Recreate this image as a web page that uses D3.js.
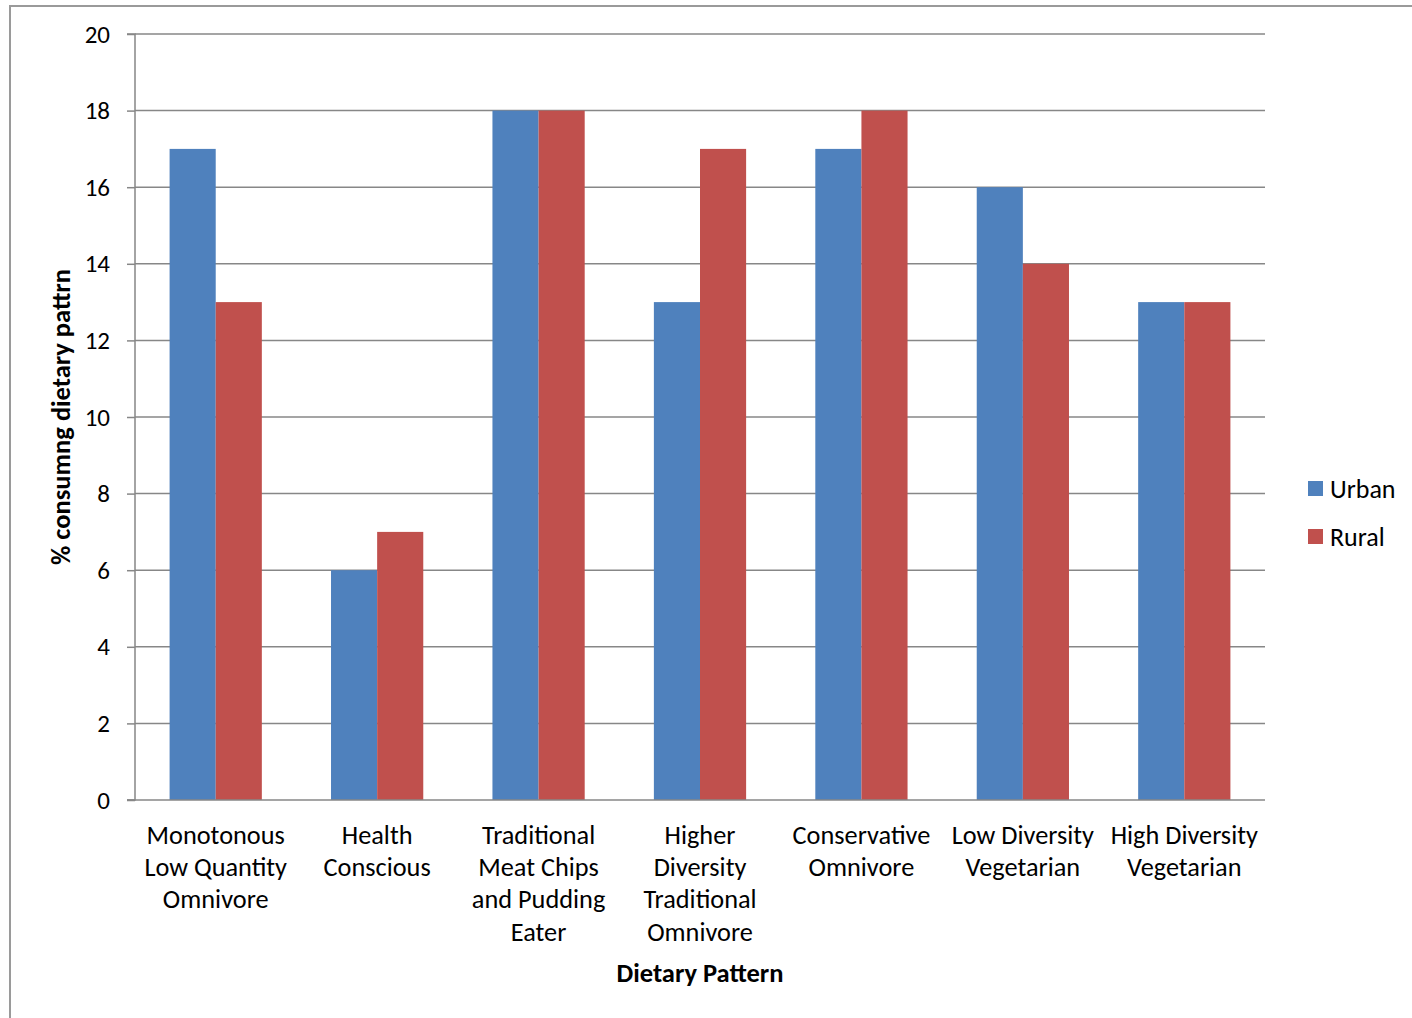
<!DOCTYPE html>
<html><head><meta charset="utf-8">
<script src="https://cdn.jsdelivr.net/npm/d3@7"></script>
<style>
html,body{margin:0;padding:0;background:#fff;}
svg{display:block;}
text{font-family:Carlito,Calibri,Lato,"Open Sans",sans-serif;fill:#000;}
</style></head>
<body>
<svg id="chart" width="1412" height="1018"></svg>
<script>
const categories = [
  ["Monotonous","Low Quantity","Omnivore"],
  ["Health","Conscious"],
  ["Traditional","Meat Chips","and Pudding","Eater"],
  ["Higher","Diversity","Traditional","Omnivore"],
  ["Conservative","Omnivore"],
  ["Low Diversity","Vegetarian"],
  ["High Diversity","Vegetarian"]
];
const seriesNames = ["Urban","Rural"];
const urban = [17, 6, 18, 13, 17, 16, 13];
const rural = [13, 7, 18, 17, 18, 14, 13];
const yTicks = [0,2,4,6,8,10,12,14,16,18,20];
const colors = ["#4F81BD","#C0504D"];

const FONT = "Carlito,Calibri,Lato,sans-serif";
const svg = d3.select("#chart");
const mL = 135, mR = 1265, mT = 34, mB = 800;

// outer frame
svg.append("path").attr("d","M10,1018 V6 H1412").attr("fill","none").attr("stroke","#9a9a9a").attr("stroke-width",2);

const idx = d3.range(categories.length);
const x = d3.scaleBand().domain(idx).range([mL,mR]).paddingInner(0).paddingOuter(0);
const x1 = d3.scaleBand().domain([0,1]).range([0,x.bandwidth()]).paddingInner(0).paddingOuter(0.75);
const y = d3.scaleLinear().domain([0,20]).range([mB,mT]);

// gridlines
svg.append("g").selectAll("line").data(yTicks.filter(d=>d>0)).join("line")
  .attr("x1",mL).attr("x2",mR).attr("y1",d=>y(d)).attr("y2",d=>y(d))
  .attr("stroke","#878787").attr("stroke-width",1.5);

// bars
const data = idx.map(i=>({i, vals:[urban[i],rural[i]]}));
const groups = svg.append("g").selectAll("g").data(data).join("g")
  .attr("transform",d=>`translate(${x(d.i)},0)`);
groups.selectAll("rect").data(d=>d.vals.map((v,j)=>({v,j}))).join("rect")
  .attr("x",d=>x1(d.j))
  .attr("width",x1.bandwidth())
  .attr("y",d=>y(d.v)).attr("height",d=>mB-y(d.v))
  .attr("fill",d=>colors[d.j]);

// y axis
const yAxis = d3.axisLeft(y).tickValues(yTicks).tickSize(8).tickPadding(17);
const yg = svg.append("g").attr("transform",`translate(${mL},0)`).call(yAxis);
yg.select(".domain").attr("stroke","#878787").attr("stroke-width",1.5).attr("d",`M-8,${mT}H0V${mB}H-8`);
yg.selectAll(".tick line").attr("stroke","#878787").attr("stroke-width",1.5);
yg.selectAll(".tick text").attr("font-size",25).attr("font-family",FONT).attr("fill","#000");

// x axis
const xAxis = d3.axisBottom(x).tickSize(0).tickFormat("");
const xg = svg.append("g").attr("transform",`translate(0,${mB})`).call(xAxis);
xg.select(".domain").attr("stroke","#878787").attr("stroke-width",1.5).attr("d",`M${mL-8},0H${mR}`);
xg.selectAll(".tick").each(function(i){
  const t = d3.select(this).append("text").attr("text-anchor","middle").attr("font-size",26.3)
    .attr("font-family",FONT).attr("fill","#000");
  categories[i].forEach((ln,k)=>t.append("tspan").attr("x",0).attr("y",43.5+k*32.4).text(ln));
});

// axis titles
svg.append("text").attr("x",700).attr("y",982).attr("text-anchor","middle")
  .attr("font-size",26.5).attr("font-weight","bold").text("Dietary Pattern");
svg.append("text").attr("transform","translate(70,417) rotate(-90)").attr("text-anchor","middle")
  .attr("font-size",26.5).attr("font-weight","bold").text("% consumng dietary pattrn");

// legend
const lg = svg.append("g").selectAll("g").data(seriesNames).join("g")
  .attr("transform",(d,i)=>`translate(1308,${481+i*48})`);
lg.append("rect").attr("width",15).attr("height",15).attr("fill",(d,i)=>colors[i]);
lg.append("text").attr("x",22).attr("y",17).attr("font-size",26).text(d=>d);
</script>
</body></html>
